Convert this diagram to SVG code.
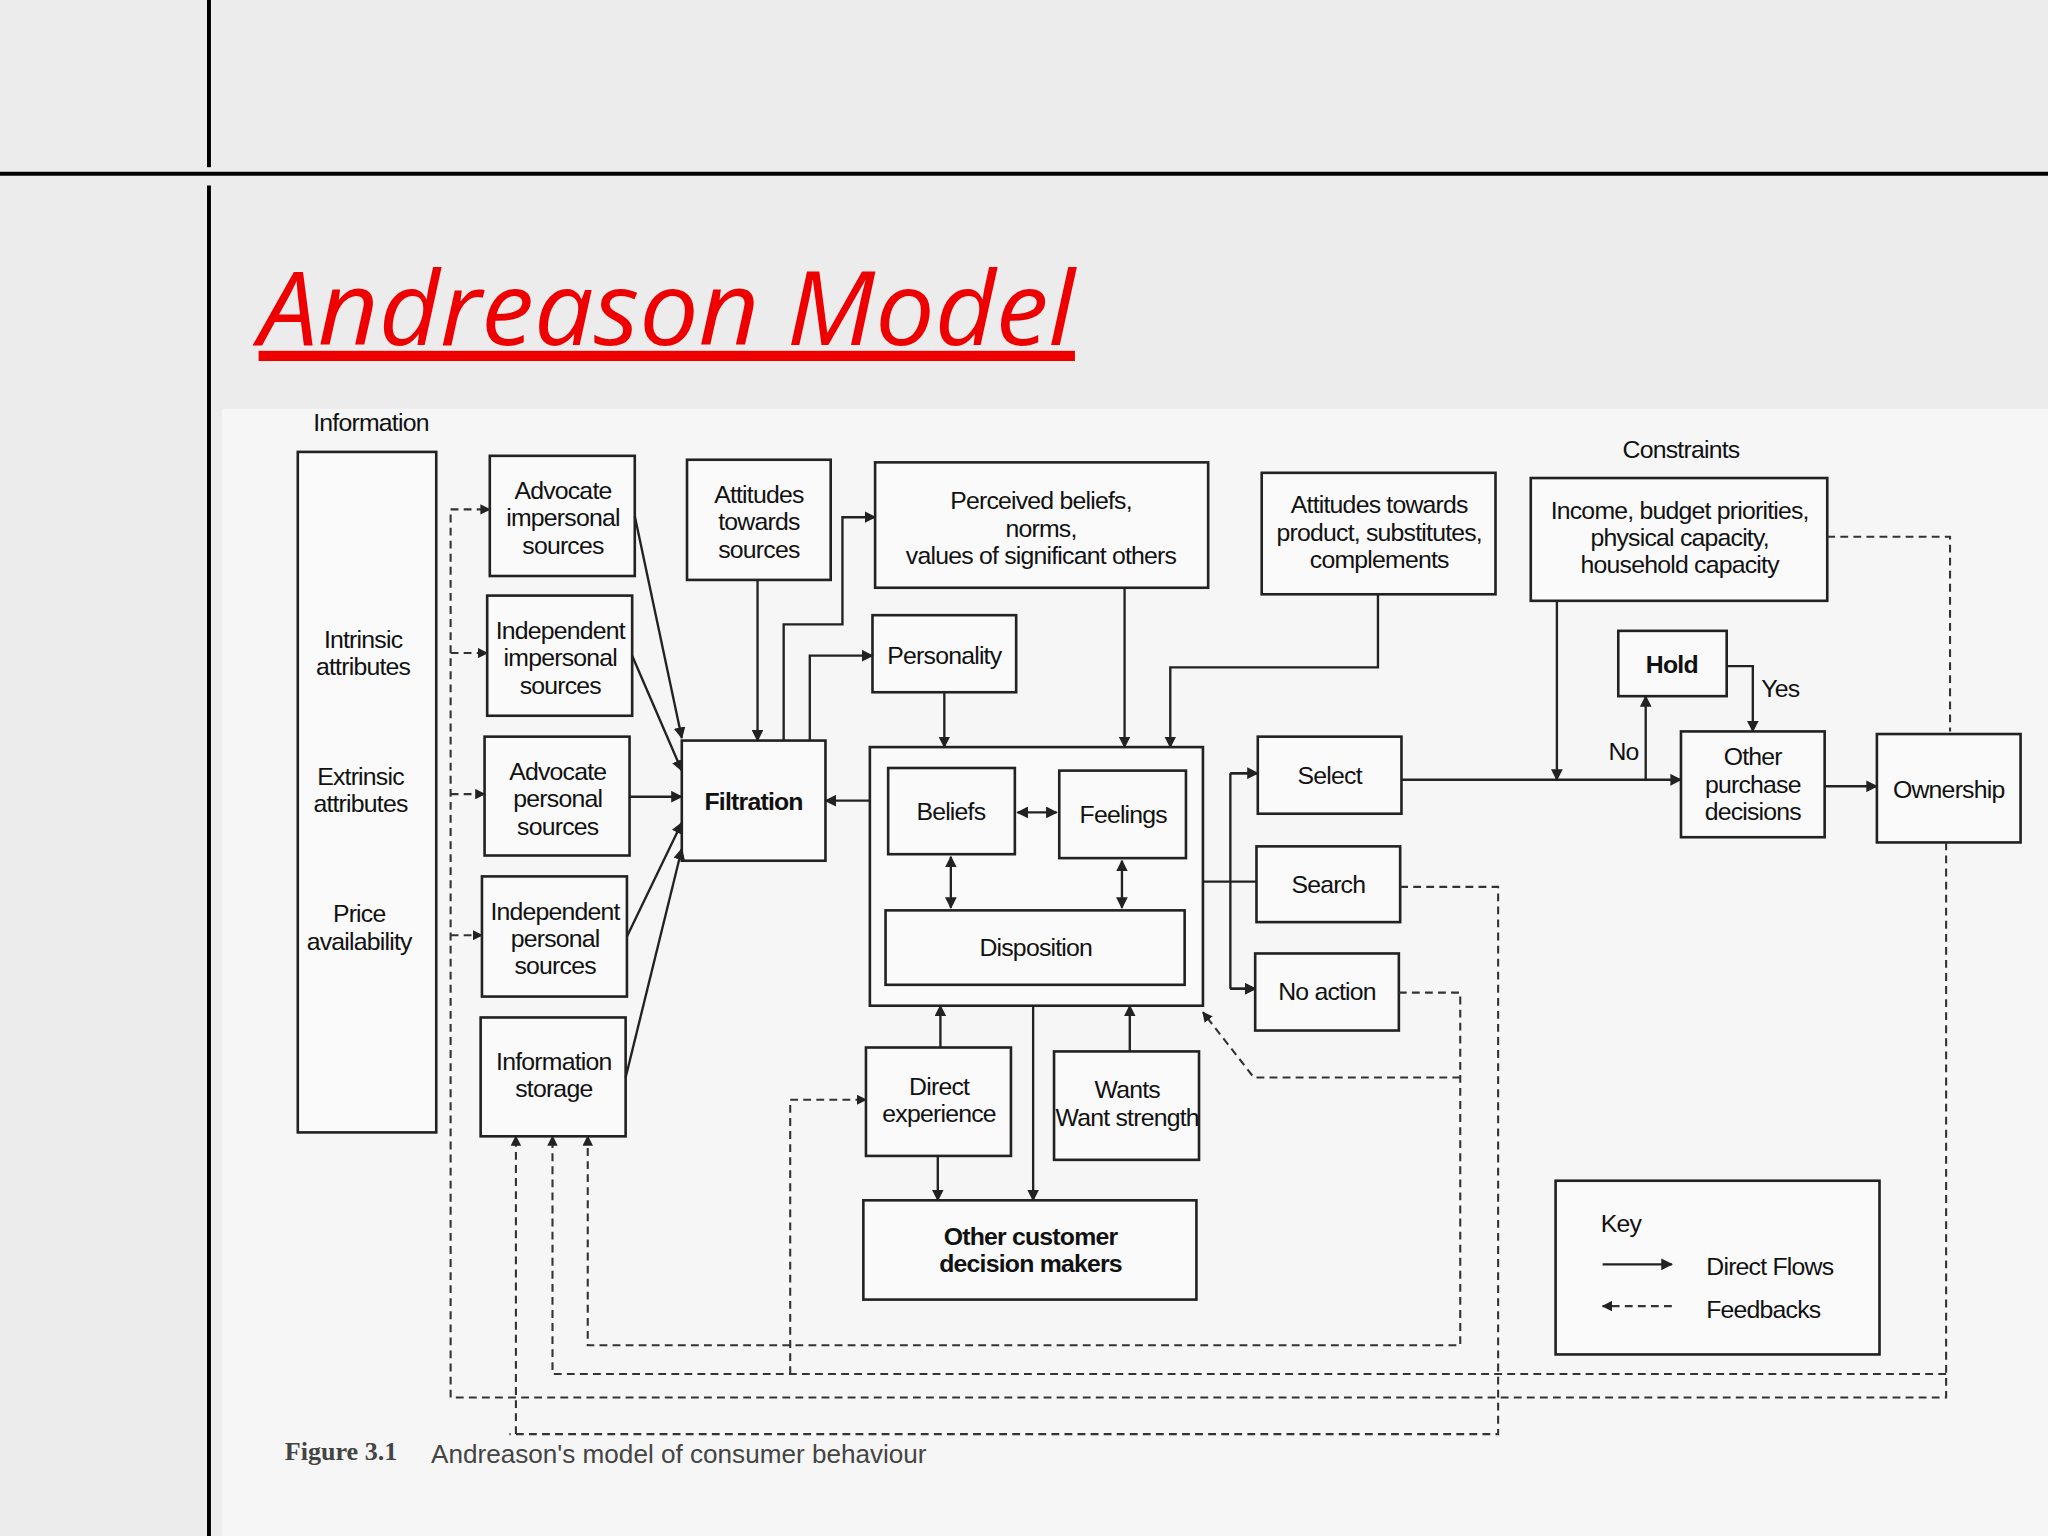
<svg xmlns="http://www.w3.org/2000/svg" width="2048" height="1536" viewBox="0 0 2048 1536">
<defs>
<marker id="a" viewBox="0 0 10 10" refX="9" refY="5" markerWidth="5" markerHeight="5" orient="auto-start-reverse"><path d="M0,0L10,5L0,10z" fill="#222"/></marker>
<style>
.b{fill:#fafafa;stroke:#222;stroke-width:2}
.t{font-family:"Liberation Sans",Arial,sans-serif;font-size:19px;fill:#111;text-anchor:middle;letter-spacing:-0.6px}
.bd{font-weight:bold}
.c{fill:none;stroke:#222;stroke-width:1.8}
.d{fill:none;stroke:#333;stroke-width:1.6;stroke-dasharray:6 4}
</style>
</defs>
<rect width="2048" height="1536" fill="#ececec"/>
<g transform="scale(1.30612)">
<rect x="170" y="313" width="1398" height="863" fill="#f6f6f6"/>
<line x1="160" y1="0" x2="160" y2="128" stroke="#000" stroke-width="3"/>
<line x1="160" y1="142" x2="160" y2="1176" stroke="#000" stroke-width="3"/>
<line x1="0" y1="133" x2="1568" y2="133" stroke="#000" stroke-width="3"/>
<text x="198" y="264" font-family="'Open Sans',sans-serif" font-style="italic" font-size="78" fill="#e00" text-decoration="underline" textLength="625" lengthAdjust="spacingAndGlyphs">Andreason Model</text>

<g id="info"><text class="t" x="284" y="330">Information</text><rect class="b" x="228" y="346" width="106" height="521"/>
<text class="t" x="278" y="496">Intrinsic</text><text class="t" x="278" y="517">attributes</text>
<text class="t" x="276" y="601">Extrinsic</text><text class="t" x="276" y="622">attributes</text>
<text class="t" x="275" y="706">Price</text><text class="t" x="275" y="727">availability</text></g>
<g id="s1"><rect class="b" x="375" y="349" width="111" height="92"/><text class="t" x="431" y="382">Advocate</text><text class="t" x="431" y="403">impersonal</text><text class="t" x="431" y="424">sources</text></g>
<g id="s2"><rect class="b" x="373" y="456" width="111" height="92"/><text class="t" x="429" y="489">Independent</text><text class="t" x="429" y="510">impersonal</text><text class="t" x="429" y="531">sources</text></g>
<g id="s3"><rect class="b" x="371" y="564" width="111" height="91"/><text class="t" x="427" y="597">Advocate</text><text class="t" x="427" y="618">personal</text><text class="t" x="427" y="639">sources</text></g>
<g id="s4"><rect class="b" x="369" y="671" width="111" height="92"/><text class="t" x="425" y="704">Independent</text><text class="t" x="425" y="725">personal</text><text class="t" x="425" y="746">sources</text></g>
<g id="s5"><rect class="b" x="368" y="779" width="111" height="91"/><text class="t" x="424" y="819">Information</text><text class="t" x="424" y="840">storage</text></g>
<g id="ats"><rect class="b" x="526" y="352" width="110" height="92"/><text class="t" x="581" y="385">Attitudes</text><text class="t" x="581" y="406">towards</text><text class="t" x="581" y="427">sources</text></g>
<g id="filt"><rect class="b" x="522" y="567" width="110" height="92"/><text class="t bd" x="577" y="620">Filtration</text></g>
<g id="perc"><rect class="b" x="670" y="354" width="255" height="96"/><text class="t" x="797" y="390">Perceived beliefs,</text><text class="t" x="797" y="411">norms,</text><text class="t" x="797" y="432">values of significant others</text></g>
<g id="pers"><rect class="b" x="668" y="471" width="110" height="59"/><text class="t" x="723" y="508">Personality</text></g>
<g id="atp"><rect class="b" x="966" y="362" width="179" height="93"/><text class="t" x="1056" y="393">Attitudes towards</text><text class="t" x="1056" y="414">product, substitutes,</text><text class="t" x="1056" y="435">complements</text></g>
<g id="cons"><text class="t" x="1287" y="351">Constraints</text><rect class="b" x="1172" y="366" width="227" height="94"/><text class="t" x="1286" y="397">Income, budget priorities,</text><text class="t" x="1286" y="418">physical capacity,</text><text class="t" x="1286" y="439">household capacity</text></g>
<g id="hold"><rect class="b" x="1239" y="483" width="83" height="50"/><text class="t bd" x="1280" y="515">Hold</text></g>
<g id="core"><rect class="b" x="666" y="572" width="255" height="198"/>
<rect class="b" x="680" y="588" width="97" height="66"/><text class="t" x="728" y="628">Beliefs</text>
<rect class="b" x="811" y="590" width="97" height="67"/><text class="t" x="860" y="630">Feelings</text>
<rect class="b" x="678" y="697" width="229" height="57"/><text class="t" x="793" y="732">Disposition</text></g>
<g id="sel"><rect class="b" x="963" y="564" width="110" height="59"/><text class="t" x="1018" y="600">Select</text></g>
<g id="sea"><rect class="b" x="962" y="648" width="110" height="58"/><text class="t" x="1017" y="684">Search</text></g>
<g id="noa"><rect class="b" x="961" y="730" width="110" height="59"/><text class="t" x="1016" y="766">No action</text></g>
<g id="opd"><rect class="b" x="1287" y="560" width="110" height="81"/><text class="t" x="1342" y="586">Other</text><text class="t" x="1342" y="607">purchase</text><text class="t" x="1342" y="628">decisions</text></g>
<g id="own"><rect class="b" x="1437" y="562" width="110" height="83"/><text class="t" x="1492" y="611">Ownership</text></g>
<g id="dex"><rect class="b" x="663" y="802" width="111" height="83"/><text class="t" x="719" y="838">Direct</text><text class="t" x="719" y="859">experience</text></g>
<g id="wants"><rect class="b" x="807" y="805" width="111" height="83"/><text class="t" x="863" y="841">Wants</text><text class="t" x="863" y="862">Want strength</text></g>
<g id="ocd"><rect class="b" x="661" y="919" width="255" height="76"/><text class="t bd" x="789" y="953">Other customer</text><text class="t bd" x="789" y="974">decision makers</text></g>
<g id="key"><rect class="b" x="1191" y="904" width="248" height="133"/><text class="t" x="1241" y="943">Key</text>
<line class="c" x1="1227" y1="968" x2="1280" y2="968" marker-end="url(#a)"/><text class="t" x="1355" y="976">Direct Flows</text>
<line class="d" x1="1280" y1="1000" x2="1227" y2="1000" marker-end="url(#a)"/><text class="t" x="1350" y="1009">Feedbacks</text></g>

<g id="connectors">
<path class="c" d="M486,395L522,565" marker-end="url(#a)"/>
<path class="c" d="M484,502L522,590" marker-end="url(#a)"/>
<path class="c" d="M482,610L522,610" marker-end="url(#a)"/>
<path class="c" d="M480,717L522,630" marker-end="url(#a)"/>
<path class="c" d="M479,825L522,650" marker-end="url(#a)"/>
<path class="c" d="M580,444V567" marker-end="url(#a)"/>
<path class="c" d="M600,567V478H645V396H670" marker-end="url(#a)"/>
<path class="c" d="M620,567V502H668" marker-end="url(#a)"/>
<path class="c" d="M723,530V572" marker-end="url(#a)"/>
<path class="c" d="M861,450V572" marker-end="url(#a)"/>
<path class="c" d="M1055,455V511H896V572" marker-end="url(#a)"/>
<path class="c" d="M666,613H632" marker-end="url(#a)"/>
<path class="c" d="M779,622H809" marker-start="url(#a)" marker-end="url(#a)"/>
<path class="c" d="M728,656V695" marker-start="url(#a)" marker-end="url(#a)"/>
<path class="c" d="M859,659V695" marker-start="url(#a)" marker-end="url(#a)"/>
<path class="c" d="M921,675H942M942,592V757M942,592H963M942,675H962M942,757H961" marker-end="url(#a)"/>
<path class="c" d="M942,592H963" marker-end="url(#a)"/>
<path class="c" d="M942,757H961" marker-end="url(#a)"/>
<path class="c" d="M1073,597H1287" marker-end="url(#a)"/>
<path class="c" d="M1192,460V597" marker-end="url(#a)"/>
<path class="c" d="M1260,597V533" marker-end="url(#a)"/>
<path class="c" d="M1322,510H1342V560" marker-end="url(#a)"/>
<path class="c" d="M1397,602H1437" marker-end="url(#a)"/>
<path class="c" d="M720,802V770" marker-end="url(#a)"/>
<path class="c" d="M865,805V770" marker-end="url(#a)"/>
<path class="c" d="M791,770V919" marker-end="url(#a)"/>
<path class="c" d="M718,885V919" marker-end="url(#a)"/>
<path class="d" d="M1399,411H1493V560"/>
<path class="d" d="M1490,645V1070H345V390"/>
<path class="d" d="M345,390H375" marker-end="url(#a)"/>
<path class="d" d="M345,500H373" marker-end="url(#a)"/>
<path class="d" d="M345,608H371" marker-end="url(#a)"/>
<path class="d" d="M345,716H369" marker-end="url(#a)"/>
<path class="d" d="M1072,679H1147V1098H390"/>
<path class="d" d="M395,1098V870" marker-end="url(#a)"/>
<path class="d" d="M1071,760H1118V1030H450V870" marker-end="url(#a)"/>
<path class="d" d="M1118,825H960L921,775" marker-end="url(#a)"/>
<path class="d" d="M1490,1052H423V870" marker-end="url(#a)"/>
<path class="d" d="M605,1052V842H663" marker-end="url(#a)"/>
</g>
<text class="t" x="1243" y="582">No</text><text class="t" x="1363" y="534">Yes</text>
<text x="218" y="1118" font-family="'Liberation Serif',serif" font-weight="bold" font-size="20" fill="#444">Figure 3.1</text>
<text x="330" y="1120" font-family="'Liberation Sans',sans-serif" font-size="20" fill="#444">Andreason's model of consumer behaviour</text>
</g>
</svg>
